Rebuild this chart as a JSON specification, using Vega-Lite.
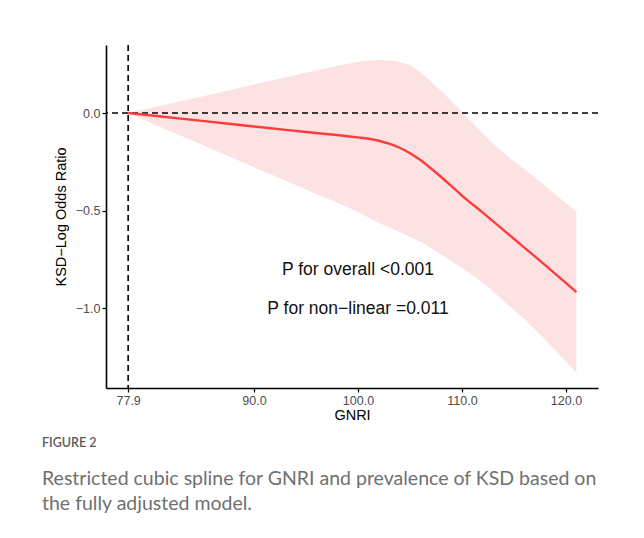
{
  "$schema": "https://vega.github.io/schema/vega-lite/v6.json",
  "width": 492,
  "height": 343,
  "autosize": {"type": "none"},
  "padding": {"left": 106, "top": 45, "right": 46, "bottom": 150},
  "background": "white",
  "config": {
    "view": {"stroke": null},
    "font": "Liberation Sans",
    "axis": {
      "domainColor": "black",
      "domainWidth": 1.6,
      "tickColor": "black",
      "tickWidth": 1.2,
      "tickSize": 4,
      "labelColor": "#4d4d4d",
      "labelFontSize": 12.5,
      "labelFont": "Liberation Sans",
      "titleFont": "Liberation Sans",
      "titleFontSize": 14.5,
      "titleFontWeight": "normal",
      "titleColor": "black",
      "grid": false
    }
  },
  "title": {
    "text": "FIGURE 2",
    "subtitle": ["Restricted cubic spline for GNRI and prevalence of KSD based on", "the fully adjusted model."],
    "orient": "bottom",
    "anchor": "start",
    "frame": "group",
    "dx": -64,
    "offset": 15,
    "font": "Lato",
    "fontSize": 12.5,
    "fontWeight": 600,
    "color": "#5a5a5a",
    "subtitleFont": "Lato",
    "subtitleFontSize": 19.5,
    "subtitleColor": "#707070",
    "subtitleLineHeight": 25,
    "subtitlePadding": 20
  },
  "datasets": {
    "curve": [
      {"gnri": 77.9, "est": 0.0, "lo": 0.0, "hi": 0.0},
      {"gnri": 85.0, "est": -0.040, "lo": -0.163, "hi": 0.085},
      {"gnri": 90.0, "est": -0.069, "lo": -0.278, "hi": 0.146},
      {"gnri": 95.0, "est": -0.097, "lo": -0.392, "hi": 0.207},
      {"gnri": 100.0, "est": -0.125, "lo": -0.508, "hi": 0.262},
      {"gnri": 101.0, "est": -0.132, "lo": -0.536, "hi": 0.269},
      {"gnri": 102.0, "est": -0.142, "lo": -0.564, "hi": 0.272},
      {"gnri": 103.0, "est": -0.157, "lo": -0.587, "hi": 0.269},
      {"gnri": 104.0, "est": -0.178, "lo": -0.610, "hi": 0.262},
      {"gnri": 105.0, "est": -0.206, "lo": -0.635, "hi": 0.244},
      {"gnri": 106.0, "est": -0.241, "lo": -0.660, "hi": 0.210},
      {"gnri": 107.0, "est": -0.283, "lo": -0.692, "hi": 0.163},
      {"gnri": 108.0, "est": -0.328, "lo": -0.726, "hi": 0.113},
      {"gnri": 110.0, "est": -0.423, "lo": -0.795, "hi": 0.005},
      {"gnri": 112.0, "est": -0.511, "lo": -0.872, "hi": -0.103},
      {"gnri": 114.0, "est": -0.600, "lo": -0.964, "hi": -0.205},
      {"gnri": 116.0, "est": -0.690, "lo": -1.058, "hi": -0.287},
      {"gnri": 118.0, "est": -0.780, "lo": -1.163, "hi": -0.374},
      {"gnri": 121.0, "est": -0.918, "lo": -1.333, "hi": -0.508}
    ],
    "notes": [
      {"gnri": 100.0, "val": -0.805, "label": "P for overall <0.001"},
      {"gnri": 100.0, "val": -1.005, "label": "P for non−linear =0.011"}
    ]
  },
  "layer": [
    {
      "data": {"name": "curve"},
      "mark": {"type": "area", "color": "#fde2e3", "opacity": 1, "interpolate": "monotone"},
      "encoding": {
        "x": {
          "field": "gnri", "type": "quantitative",
          "scale": {"domain": [75.77, 123.08], "nice": false, "zero": false},
          "axis": {"values": [77.9, 90, 100, 110, 120], "format": ".1f", "title": "GNRI", "titlePadding": 2, "labelPadding": 2}
        },
        "y": {
          "field": "lo", "type": "quantitative",
          "scale": {"domain": [-1.41, 0.349], "nice": false, "zero": false},
          "axis": {"values": [0, -0.5, -1], "format": ".1f", "title": "KSD−Log Odds Ratio", "titlePadding": 7, "labelPadding": 2}
        },
        "y2": {"field": "hi"}
      }
    },
    {
      "data": {"values": [{"v": 0}]},
      "mark": {"type": "rule", "color": "black", "strokeWidth": 1.6, "strokeDash": [6, 4]},
      "encoding": {"y": {"field": "v", "type": "quantitative"}}
    },
    {
      "data": {"values": [{"v": 77.9}]},
      "mark": {"type": "rule", "color": "black", "strokeWidth": 1.6, "strokeDash": [6, 4]},
      "encoding": {"x": {"field": "v", "type": "quantitative"}}
    },
    {
      "data": {"name": "curve"},
      "mark": {"type": "line", "color": "#ff3b3b", "strokeWidth": 2.4, "interpolate": "monotone"},
      "encoding": {
        "x": {"field": "gnri", "type": "quantitative"},
        "y": {"field": "est", "type": "quantitative"}
      }
    },
    {
      "data": {"name": "notes"},
      "mark": {"type": "text", "font": "Liberation Sans", "fontSize": 17.5, "color": "#111111", "align": "center", "baseline": "middle"},
      "encoding": {
        "x": {"field": "gnri", "type": "quantitative"},
        "y": {"field": "val", "type": "quantitative"},
        "text": {"field": "label"}
      }
    }
  ]
}
